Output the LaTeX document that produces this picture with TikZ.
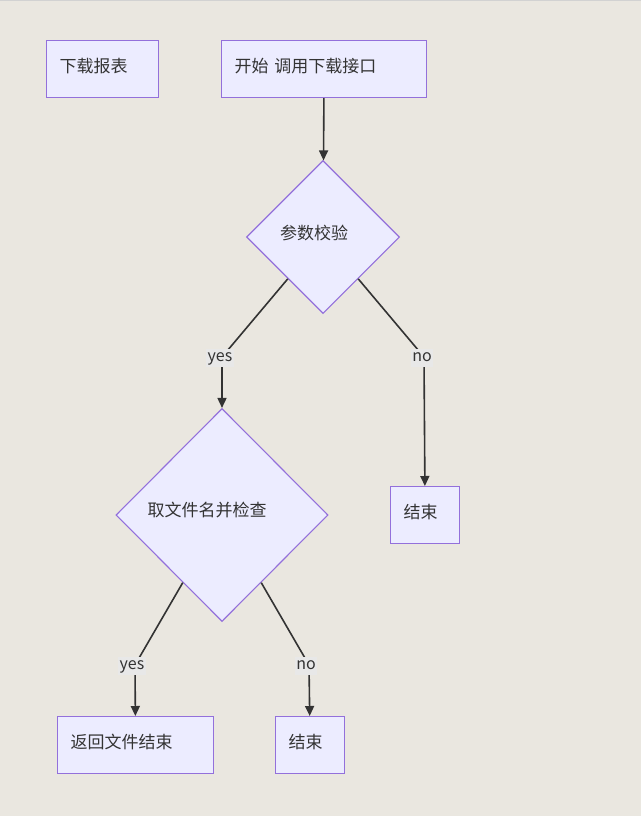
\documentclass[tikz,border=0pt]{standalone}
\usepackage{fontspec}
\setmainfont{Noto Sans CJK SC}
\usetikzlibrary{shapes.geometric,arrows.meta}
\definecolor{bgc}{HTML}{EAE7E0}
\definecolor{nodefill}{HTML}{ECECFF}
\definecolor{nodeline}{HTML}{9370DB}
\definecolor{edgec}{HTML}{333333}
\definecolor{lblbg}{HTML}{E8E8E8}
\definecolor{topline}{HTML}{D2D2D2}
\tikzset{
  box/.style={draw=nodeline, fill=nodefill, line width=1.2pt, rectangle, anchor=north west,
    minimum height=57pt, inner xsep=13pt, align=left, text=edgec, text depth=7pt,
    font=\fontsize{17}{19}\selectfont},
  dia/.style={draw=nodeline, fill=nodefill, line width=1.1pt, diamond, inner sep=0pt},
  diatext/.style={text=edgec, font=\fontsize{17}{19}\selectfont, inner sep=0pt},
  edge/.style={draw=edgec, line width=1.6pt, -{Triangle[length=10pt,width=9pt]}},
  plain/.style={draw=edgec, line width=1.6pt},
  lbl/.style={fill=lblbg, inner sep=1.5pt, text=edgec, text height=11pt, text depth=4pt,
    font=\fontsize{16}{18}\selectfont}
}
\begin{document}
\begin{tikzpicture}[x=1pt,y=-1pt]
\useasboundingbox (0,0) rectangle (641,816);
\fill[bgc] (0,0) rectangle (641,816);
\draw[topline, line width=1.5pt] (0,0.75) -- (641,0.75);

\node[box, text width=86pt] (report) at (46,40) {下载报表};
\node[box, text width=179pt] (start) at (221,40) {开始 调用下载接口};
\node[dia, minimum width=153pt, minimum height=153pt,
  label={[diatext, xshift=-9pt, yshift=4pt]center:参数校验}] (check) at (323,237) {};
\node[dia, minimum width=212pt, minimum height=213pt,
  label={[diatext, xshift=-15pt, yshift=5pt]center:取文件名并检查}] (file) at (222,515) {};
\node[box, text width=43pt] (end1) at (390,486) {结束};
\node[box, text width=130pt] (ret) at (57,716) {返回文件结束};
\node[box, text width=43pt] (end2) at (275,716) {结束};

\coordinate (y1) at (222,357);
\coordinate (n1) at (424,357);
\coordinate (y2) at (135,665);
\coordinate (n2) at (309,665);

\draw[edge] (start) -- (check);
\draw[plain] (check) -- (y1);
\draw[edge] (y1) -- (file);
\draw[plain] (check) -- (n1);
\draw[edge] (n1) -- (end1);
\draw[plain] (file) -- (y2);
\draw[edge] (y2) -- (ret);
\draw[plain] (file) -- (n2);
\draw[edge] (n2) -- (end2);

\node[lbl] (ly1) at (220,358) {yes};
\node[lbl] (ln1) at (422,358) {no};
\node[lbl] (ly2) at (132,666) {yes};
\node[lbl] (ln2) at (306,666) {no};
\end{tikzpicture}
\end{document}
